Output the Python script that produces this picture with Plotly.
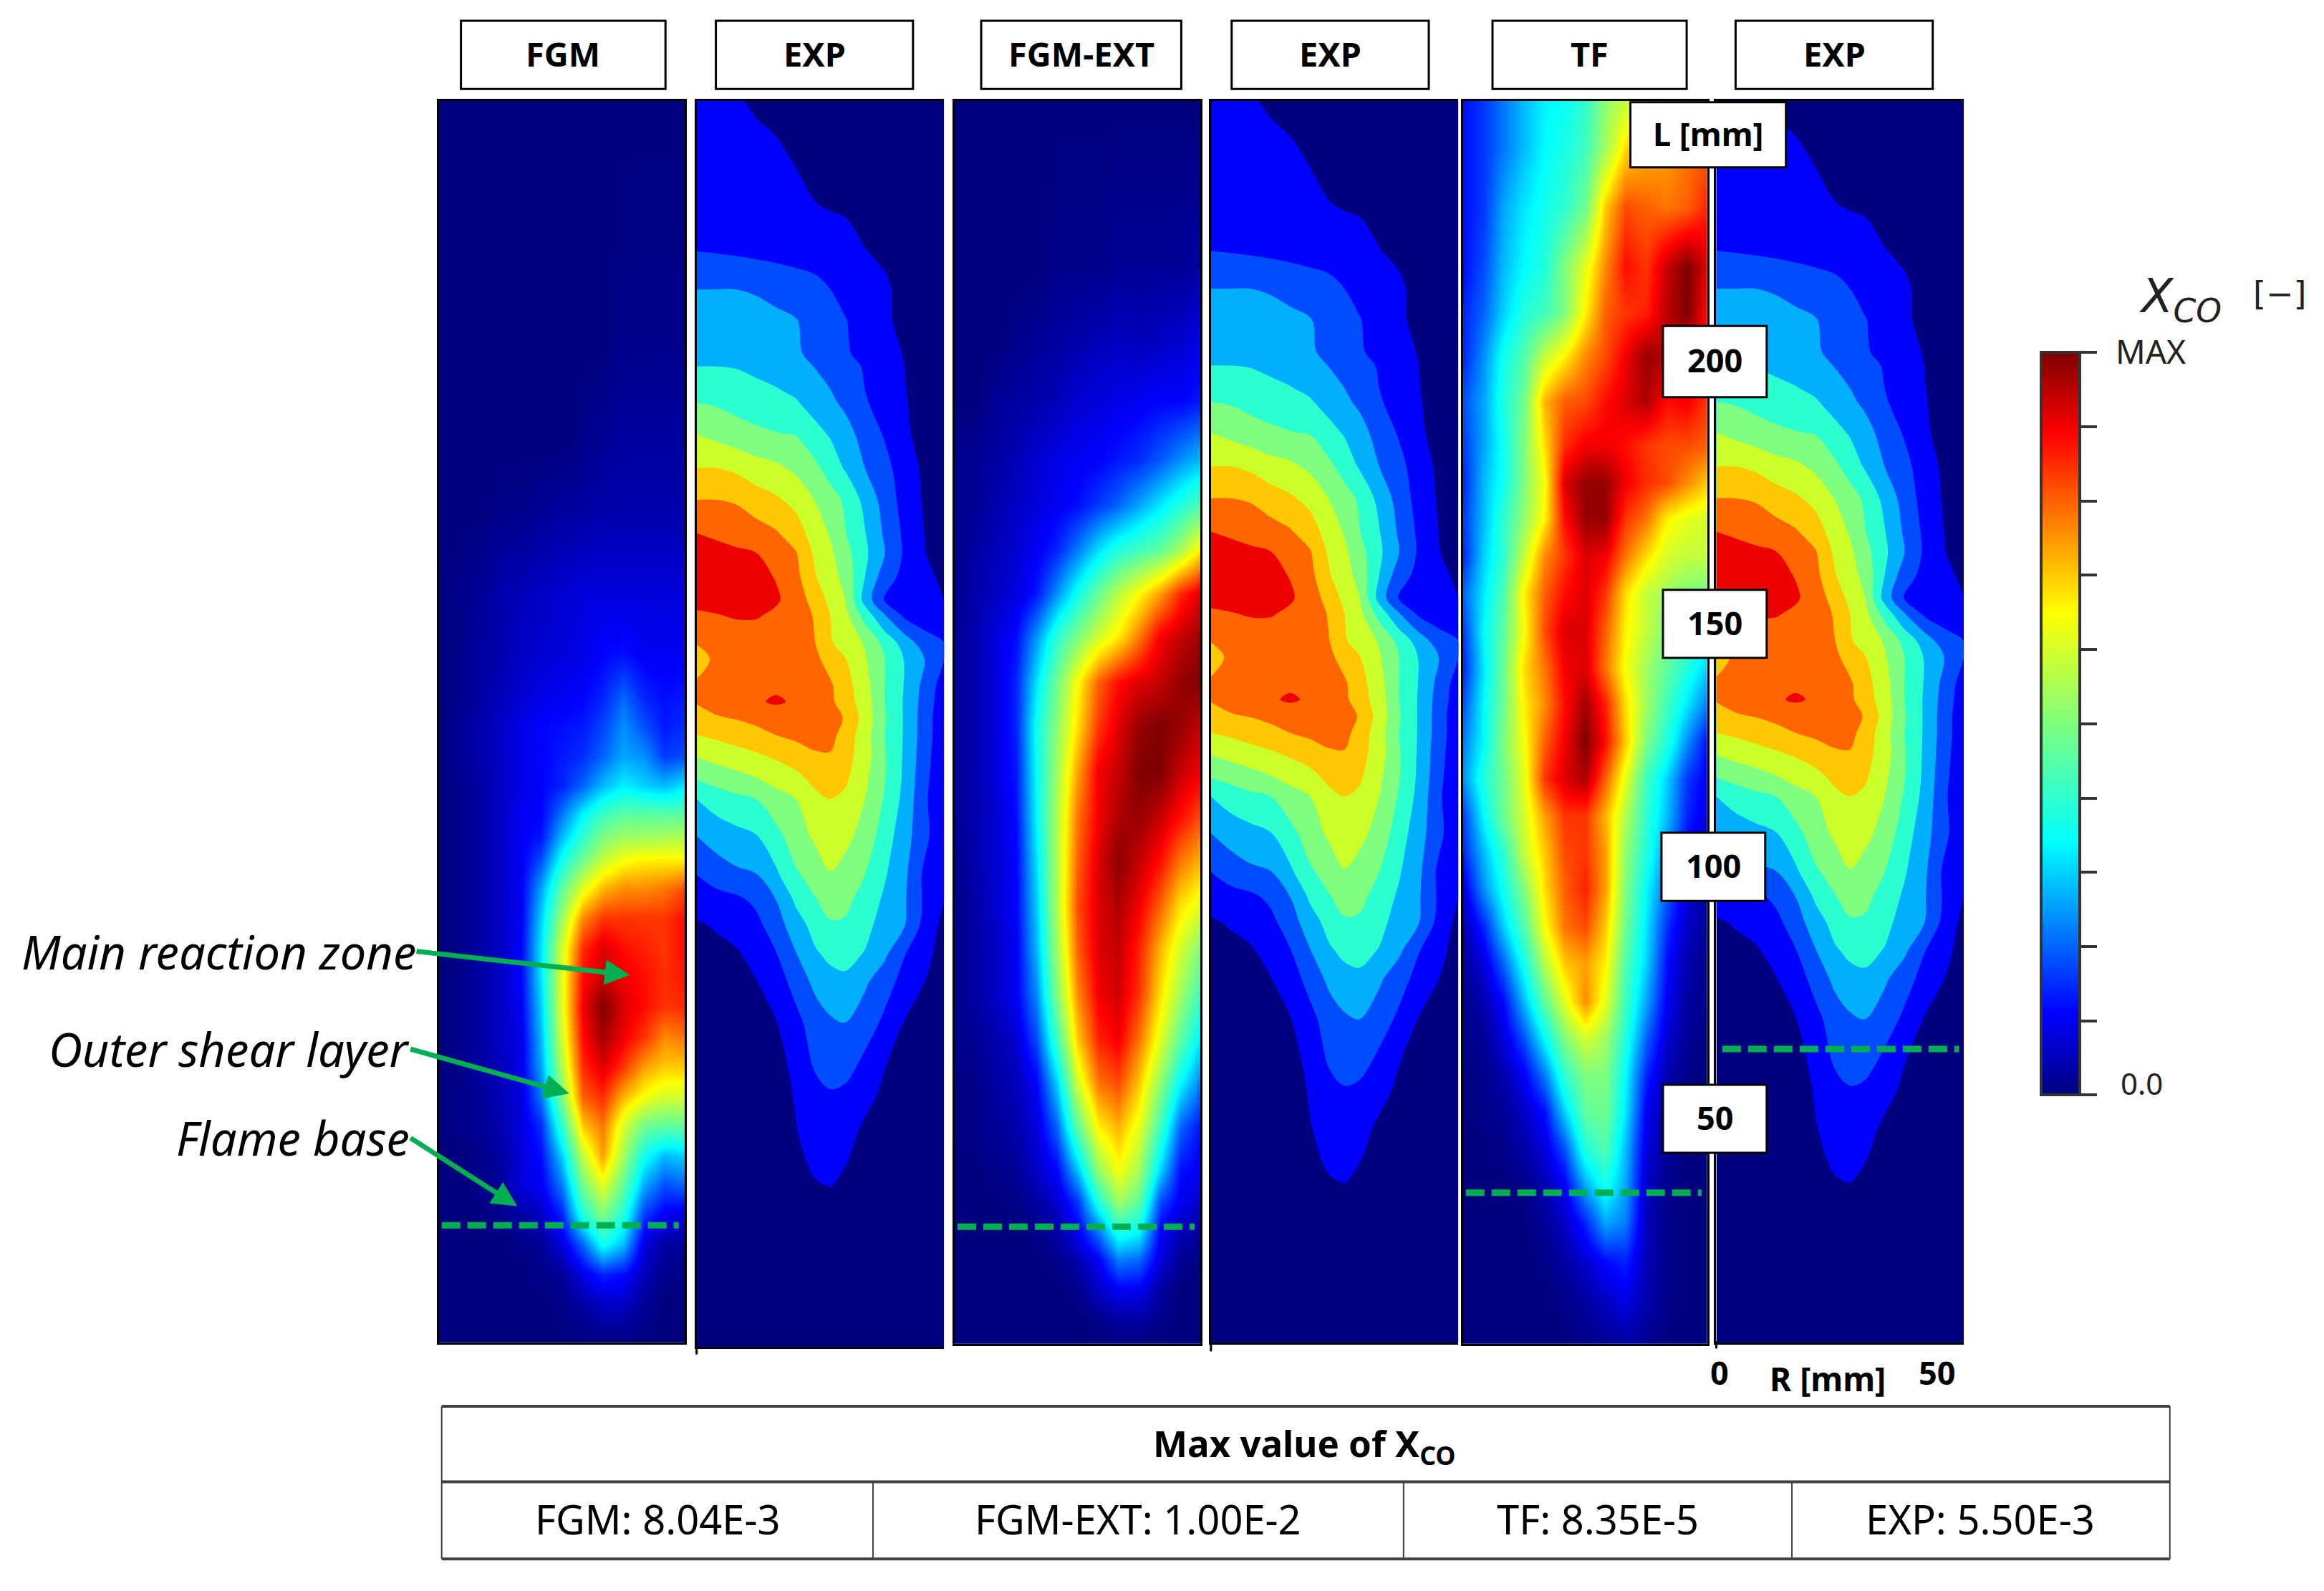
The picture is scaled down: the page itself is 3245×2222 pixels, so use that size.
import plotly.graph_objects as go

W, H = 3245, 2222
S = W / 1568  # positions below were measured on the 1568 wide preview

panel_names = ["FGM", "EXP", "FGM-EXT", "EXP", "TF", "EXP"]
L_ticks = ["L [mm]", "200", "150", "100", "50"]
max_labels = ["FGM: 8.04E-3", "FGM-EXT: 1.00E-2", "TF: 8.35E-5", "EXP: 5.50E-3"]

# flame base height in mm
base_fgm = 28.9
base_fgm_ext = 28.9
base_tf = 35.6
base_exp = 63.8

sim_R = [-50, -45.8, -41.7, -37.5, -33.3, -29.2, -25, -20.8, -16.7, -12.5, -8.3, -4.2, 0]
exp_R = [0, 4, 8, 12, 16, 20, 24, 27, 30, 34, 38, 42, 46, 50]

fgm_L = [251.5, 204, 183.4, 170.2, 154.1, 142.4, 133.6, 127.7, 121.8, 115.9, 110.1, 105.7, 101.3, 95.5,
         89.6, 83.7, 77.9, 72, 66.1, 60.3, 54.4, 48.5, 42.7, 36.8, 30.9, 25.1, 19.2, 13.3, 5.7]
fgm_z = [
    [0, 0, 0, 0, 0, 0, 0, 0, 0, 0, 0, 0, 0],
    [0, 0, 0, 0, 0, 0, 0, 0, 0, 1, 1, 1, 1],
    [0, 0, 0, 0, 0, 0, 0, 1, 2, 3, 3, 3, 3],
    [0, 0, 0, 1, 1, 2, 3, 3, 4, 4, 4, 4, 4],
    [0, 1, 2, 4, 5, 6, 7, 8, 8, 8, 8, 8, 8],
    [0, 1, 3, 4, 6, 7, 8, 9, 11, 12, 10, 10, 10],
    [0, 1, 3, 5, 7, 9, 10, 11, 14, 20, 14, 12, 13],
    [0, 2, 4, 6, 9, 11, 12, 13, 17, 24, 18, 13, 15],
    [0, 2, 4, 6, 9, 11, 13, 15, 20, 26, 24, 16, 18],
    [0, 1, 3, 6, 9, 11, 14, 20, 28, 33, 30, 28, 32],
    [0, 1, 3, 6, 10, 11, 22, 34, 42, 46, 46, 46, 46],
    [0, 1, 3, 6, 10, 13, 28, 40, 50, 54, 54, 55, 56],
    [0, 1, 3, 6, 10, 18, 36, 48, 58, 64, 66, 66, 66],
    [0, 1, 3, 6, 10, 26, 46, 62, 72, 76, 76, 78, 82],
    [0, 1, 3, 6, 10, 30, 54, 76, 84, 84, 84, 84, 88],
    [0, 1, 3, 6, 11, 32, 60, 85, 92, 88, 86, 84, 88],
    [0, 1, 3, 6, 11, 32, 62, 88, 94, 90, 88, 85, 87],
    [0, 1, 3, 6, 10, 30, 62, 90, 100, 92, 88, 84, 85],
    [0, 1, 3, 6, 9, 28, 60, 88, 97, 90, 84, 76, 78],
    [0, 1, 3, 5, 9, 26, 56, 85, 92, 84, 74, 70, 70],
    [0, 1, 2, 5, 8, 22, 50, 80, 85, 72, 64, 60, 60],
    [0, 1, 2, 4, 8, 15, 40, 70, 78, 60, 48, 46, 46],
    [0, 0, 1, 3, 8, 12, 30, 58, 74, 54, 36, 28, 30],
    [0, 0, 1, 2, 8, 10, 22, 48, 62, 46, 26, 18, 20],
    [0, 0, 0, 1, 3, 6, 14, 38, 50, 38, 16, 10, 8],
    [0, 0, 0, 0, 1, 2, 8, 20, 36, 28, 8, 3, 2],
    [0, 0, 0, 0, 0, 1, 2, 9, 14, 12, 5, 1, 1],
    [0, 0, 0, 0, 0, 0, 1, 3, 6, 6, 2, 0, 0],
    [0, 0, 0, 0, 0, 0, 0, 0, 0, 0, 0, 0, 0],
]

ext_L = [251.5, 218.6, 204, 192.2, 180.5, 171.7, 162.9, 154.1, 145.3, 136.5, 127.7, 118.9, 110.1, 101.3,
         92.5, 83.7, 74.9, 66.1, 57.3, 48.5, 39.7, 33.9, 28, 22.1, 16.3, 10.4, 5.7]
ext_z = [
    [0, 0, 0, 0, 0, 0, 0, 0, 0, 0, 0, 0, 0],
    [0, 0, 0, 0, 0, 1, 1, 1, 2, 2, 2, 2, 3],
    [0, 0, 0, 1, 2, 3, 4, 5, 6, 5, 6, 7, 9],
    [0, 0, 2, 3, 4, 5, 7, 8, 9, 10, 11, 11, 13],
    [1, 2, 3, 5, 7, 9, 10, 11, 13, 15, 19, 24, 28],
    [1, 2, 4, 6, 8, 10, 12, 16, 20, 26, 32, 38, 44],
    [1, 3, 5, 7, 10, 14, 22, 31, 38, 42, 46, 54, 66],
    [1, 4, 6, 8, 13, 24, 36, 47, 57, 65, 74, 85, 92],
    [2, 4, 8, 12, 25, 40, 50, 60, 67, 78, 90, 94, 98],
    [2, 4, 8, 14, 32, 48, 65, 80, 88, 92, 94, 98, 100],
    [2, 4, 8, 14, 36, 52, 68, 84, 92, 98, 100, 98, 94],
    [2, 4, 8, 13, 35, 54, 74, 90, 94, 100, 100, 94, 90],
    [2, 4, 7, 12, 34, 56, 78, 90, 96, 98, 94, 88, 82],
    [1, 4, 7, 11, 32, 56, 80, 92, 99, 94, 88, 78, 72],
    [1, 3, 7, 11, 30, 56, 82, 92, 96, 90, 80, 68, 62],
    [1, 3, 6, 10, 28, 54, 80, 92, 94, 86, 72, 60, 50],
    [1, 3, 6, 10, 24, 50, 76, 90, 93, 84, 68, 54, 42],
    [1, 2, 4, 7, 18, 42, 70, 86, 90, 78, 62, 46, 32],
    [0, 1, 3, 5, 11, 30, 60, 78, 82, 70, 52, 34, 22],
    [0, 1, 2, 4, 8, 20, 46, 66, 72, 62, 42, 20, 12],
    [0, 0, 1, 2, 6, 11, 28, 52, 64, 54, 30, 12, 10],
    [0, 0, 0, 1, 3, 7, 16, 38, 54, 46, 18, 10, 6],
    [0, 0, 0, 0, 1, 3, 10, 22, 38, 34, 11, 5, 2],
    [0, 0, 0, 0, 0, 1, 4, 10, 22, 20, 8, 2, 0],
    [0, 0, 0, 0, 0, 0, 1, 6, 10, 10, 3, 0, 0],
    [0, 0, 0, 0, 0, 0, 0, 1, 3, 3, 1, 0, 0],
    [0, 0, 0, 0, 0, 0, 0, 0, 0, 0, 0, 0, 0],
]

tf_L = [251.5, 242.1, 230.4, 218.6, 209.8, 201, 192.2, 183.4, 176.1, 168.8, 161.4, 154.1, 146.8, 139.4,
        132.1, 124.8, 117.4, 110.1, 102.8, 95.5, 88.1, 80.8, 73.5, 66.1, 58.8, 51.5, 44.1, 36.8, 29.5,
        22.1, 14.8, 5.7]
tf_z = [
    [12, 16, 22, 28, 33, 35, 40, 52, 58, 68, 72, 75, 78],
    [12, 16, 22, 28, 34, 37, 42, 54, 68, 72, 74, 78, 80],
    [12, 16, 26, 32, 36, 40, 48, 70, 82, 80, 78, 80, 86],
    [12, 18, 28, 34, 38, 50, 62, 76, 88, 84, 94, 100, 92],
    [14, 20, 30, 38, 42, 50, 66, 80, 84, 86, 95, 100, 88],
    [14, 24, 36, 44, 58, 66, 76, 82, 90, 98, 95, 92, 88],
    [18, 26, 38, 48, 72, 80, 82, 88, 92, 96, 88, 90, 84],
    [16, 26, 36, 50, 68, 85, 90, 90, 88, 84, 82, 82, 80],
    [14, 28, 36, 50, 64, 92, 98, 98, 90, 85, 82, 76, 70],
    [16, 28, 40, 52, 66, 88, 98, 98, 84, 78, 66, 62, 60],
    [14, 30, 40, 58, 76, 84, 92, 90, 78, 68, 60, 58, 58],
    [20, 32, 44, 66, 80, 88, 92, 84, 68, 58, 54, 50, 48],
    [16, 34, 46, 64, 82, 92, 92, 80, 66, 58, 50, 42, 36],
    [14, 32, 48, 68, 78, 90, 92, 78, 64, 54, 46, 38, 30],
    [18, 34, 48, 66, 76, 88, 97, 86, 68, 54, 42, 32, 22],
    [22, 34, 50, 64, 80, 90, 100, 88, 70, 50, 38, 24, 12],
    [24, 38, 48, 62, 84, 92, 96, 80, 62, 42, 30, 16, 10],
    [16, 34, 48, 60, 74, 84, 84, 72, 56, 40, 28, 14, 8],
    [14, 28, 40, 58, 70, 82, 84, 74, 52, 38, 24, 11, 5],
    [8, 24, 36, 50, 68, 80, 86, 74, 50, 34, 20, 8, 3],
    [4, 14, 30, 44, 64, 78, 82, 70, 48, 32, 15, 6, 2],
    [2, 8, 20, 36, 56, 70, 74, 66, 44, 30, 12, 4, 1],
    [1, 4, 12, 28, 46, 62, 76, 62, 42, 26, 10, 3, 1],
    [1, 2, 8, 18, 34, 50, 60, 54, 38, 20, 7, 2, 0],
    [0, 1, 4, 10, 22, 40, 50, 50, 34, 14, 4, 1, 0],
    [0, 1, 2, 6, 12, 30, 46, 48, 32, 10, 3, 0, 0],
    [0, 0, 1, 3, 8, 18, 38, 44, 28, 8, 2, 0, 0],
    [0, 0, 0, 1, 4, 10, 26, 36, 26, 6, 1, 0, 0],
    [0, 0, 0, 0, 2, 6, 14, 26, 22, 5, 1, 0, 0],
    [0, 0, 0, 0, 1, 3, 7, 12, 14, 5, 1, 0, 0],
    [0, 0, 0, 0, 0, 1, 3, 6, 9, 4, 1, 0, 0],
    [0, 0, 0, 0, 0, 0, 1, 2, 3, 2, 0, 0, 0],
]

# EXP values are on the band scale, band k runs from k to k+1
exp_L = [252, 244.2, 237.9, 231.6, 228.4, 221.8, 217.2, 214.3, 208.1, 201.8, 199.1, 194.6, 191.9, 185.8,
         179.1, 172.8, 166.2, 162.1, 157.6, 153.1, 150, 144.6, 141.4, 136, 133, 129.7, 126.4, 122, 117.5,
         113.8, 106.5, 98.8, 93.9, 89, 83.3, 77.6, 69.7, 59.7, 56, 48.3, 41.8, 37.4, 29.6, 5]
exp_z = [
    [1.4, 1.3, 1.1, 0.8, 0.4, 0, 0, 0, 0, 0, 0, 0, 0, 0],
    [1.5, 1.5, 1.4, 1.2, 1.02, 0.7, 0.3, 0, 0, 0, 0, 0, 0, 0],
    [1.6, 1.6, 1.5, 1.4, 1.2, 1.02, 0.7, 0.3, 0, 0, 0, 0, 0, 0],
    [1.7, 1.7, 1.6, 1.5, 1.4, 1.2, 1.0, 0.7, 0.4, 0, 0, 0, 0, 0],
    [1.8, 1.8, 1.7, 1.6, 1.5, 1.4, 1.3, 1.2, 1.02, 0.6, 0, 0, 0, 0],
    [2.0, 1.95, 1.9, 1.85, 1.8, 1.75, 1.6, 1.4, 1.25, 1.05, 0.7, 0.2, 0, 0],
    [2.6, 2.5, 2.4, 2.3, 2.2, 2.1, 2.0, 1.8, 1.6, 1.3, 1.05, 0.4, 0, 0],
    [3.0, 3.0, 3.0, 2.9, 2.6, 2.4, 2.2, 2.0, 1.7, 1.4, 1.15, 0.7, 0, 0],
    [3.5, 3.5, 3.5, 3.4, 3.3, 3.05, 2.7, 2.3, 2.05, 1.6, 1.2, 0.7, 0, 0],
    [3.8, 3.8, 3.75, 3.7, 3.5, 3.1, 2.8, 2.4, 2.1, 1.75, 1.3, 0.95, 0, 0],
    [4.0, 4.0, 3.95, 3.8, 3.6, 3.4, 2.95, 2.5, 2.2, 1.95, 1.45, 1.0, 0.3, 0],
    [4.7, 4.6, 4.4, 4.2, 4.05, 3.8, 3.4, 3.0, 2.6, 2.0, 1.5, 1.05, 0.4, 0],
    [5.0, 4.9, 4.7, 4.5, 4.3, 4.1, 3.6, 3.2, 2.8, 2.1, 1.6, 1.1, 0.5, 0],
    [6.0, 5.7, 5.4, 5.2, 5.05, 4.95, 4.3, 3.9, 3.4, 2.6, 1.9, 1.2, 0.6, 0],
    [7.0, 7.0, 6.8, 6.4, 6.2, 5.8, 5.2, 4.6, 3.9, 3.0, 2.3, 1.5, 0.8, 0],
    [8.0, 8.0, 7.9, 7.5, 7.15, 6.7, 5.95, 5.4, 4.85, 3.7, 2.6, 1.6, 0.9, 0],
    [9.0, 8.8, 8.6, 8.4, 8.1, 7.5, 6.5, 5.9, 5.05, 4.05, 2.85, 1.8, 1.0, 0],
    [9.4, 9.4, 9.2, 9.05, 8.4, 8.1, 6.8, 6.2, 5.4, 4.2, 3.0, 1.85, 1.1, 0],
    [9.6, 9.6, 9.5, 9.3, 8.95, 8.3, 7.05, 6.4, 5.7, 4.0, 2.45, 1.7, 1.25, 0.8],
    [9.4, 9.4, 9.4, 9.3, 9.15, 8.5, 7.6, 6.7, 6.02, 3.6, 1.9, 1.5, 1.3, 1.0],
    [8.8, 8.95, 9.1, 9.1, 8.8, 8.5, 7.9, 7.0, 6.3, 4.6, 3.05, 1.8, 1.4, 1.2],
    [8.05, 8.3, 8.4, 8.4, 8.4, 8.3, 8.0, 7.1, 6.6, 5.9, 4.7, 3.55, 2.5, 2.0],
    [7.6, 8.2, 8.5, 8.5, 8.5, 8.4, 8.2, 7.6, 7.05, 6.1, 5.0, 3.95, 3.0, 2.0],
    [8.15, 8.4, 8.6, 8.8, 8.8, 8.7, 8.4, 8.15, 7.4, 6.4, 5.0, 3.95, 2.7, 1.5],
    [8.1, 8.4, 8.6, 8.85, 9.15, 8.85, 8.5, 8.2, 7.5, 6.5, 5.0, 3.9, 2.6, 1.4],
    [7.5, 7.9, 8.05, 8.25, 8.4, 8.6, 8.6, 8.5, 7.9, 6.6, 5.1, 3.9, 2.5, 1.3],
    [7.0, 7.2, 7.4, 7.7, 8.0, 8.2, 8.35, 8.3, 7.6, 6.45, 5.0, 3.9, 2.5, 1.3],
    [6.0, 6.3, 6.6, 6.8, 7.1, 7.5, 7.85, 7.9, 7.4, 6.45, 5.1, 3.85, 2.4, 1.2],
    [5.0, 5.3, 5.55, 5.9, 6.3, 6.6, 7.3, 7.5, 7.15, 6.2, 5.05, 3.8, 2.3, 1.1],
    [4.0, 4.5, 4.8, 5.0, 5.6, 6.0, 6.7, 7.0, 6.8, 6.0, 4.9, 3.7, 2.2, 1.05],
    [3.0, 3.4, 3.7, 3.95, 4.7, 5.5, 6.2, 6.5, 6.3, 5.6, 4.5, 3.4, 2.3, 1.1],
    [2.0, 2.5, 2.8, 2.95, 3.8, 4.85, 5.4, 5.95, 5.6, 5.0, 4.1, 3.2, 1.8, 1.1],
    [1.45, 1.6, 1.8, 2.2, 3.0, 4.15, 4.95, 5.4, 5.3, 4.55, 3.85, 3.1, 1.85, 1.0],
    [0.9, 1.1, 1.35, 1.75, 2.5, 3.6, 4.35, 4.9, 4.85, 4.3, 3.6, 3.05, 1.7, 0.7],
    [0.6, 0.75, 0.9, 1.3, 1.95, 2.95, 3.9, 4.2, 4.3, 3.95, 3.2, 2.05, 1.3, 0.6],
    [0.3, 0.5, 0.7, 0.95, 1.5, 2.35, 3.25, 3.7, 3.8, 3.15, 2.4, 1.65, 1.0, 0.4],
    [0, 0.1, 0.3, 0.55, 0.95, 1.7, 2.5, 2.85, 3.0, 2.5, 1.8, 0.95, 0.4, 0],
    [0, 0, 0.1, 0.3, 0.6, 1.2, 2.0, 2.3, 2.25, 1.6, 0.95, 0.3, 0, 0],
    [0, 0, 0, 0.2, 0.5, 1.1, 1.7, 1.95, 1.8, 1.3, 0.85, 0.2, 0, 0],
    [0, 0, 0, 0.1, 0.4, 0.95, 1.4, 1.5, 1.3, 0.85, 0.3, 0, 0, 0],
    [0, 0, 0, 0, 0.2, 0.7, 1.2, 1.3, 1.05, 0.5, 0, 0, 0, 0],
    [0, 0, 0, 0, 0.1, 0.3, 0.9, 1.02, 0.6, 0.1, 0, 0, 0, 0],
    [0, 0, 0, 0, 0, 0, 0.3, 0.3, 0.1, 0, 0, 0, 0, 0],
    [0, 0, 0, 0, 0, 0, 0, 0, 0, 0, 0, 0, 0, 0],
]

jet = [[0, "#00007f"], [0.11, "#0000ff"], [0.34, "#00ffff"], [0.5, "#7fff7f"],
       [0.65, "#ffff00"], [0.89, "#ff0000"], [1, "#7f0000"]]
band_colors = ["#000080", "#0000ff", "#004cff", "#00b0ff", "#2affcf",
               "#7fff7f", "#ccff2a", "#ffc800", "#ff6600", "#ee0000"]
band_scale = []
for i, c in enumerate(band_colors):
    band_scale.append([i / 10, c])
    band_scale.append([(i + 1) / 10, c])

GREEN = "#00b050"
TEXT = "Noto Sans"


def fx(x):
    return x * S / W


def fy(y):
    return 1 - y * S / H


def label(x, y, text, size, bold=False, italic=False, color="black", font=TEXT):
    if bold:
        text = "<b>" + text + "</b>"
    if italic:
        text = "<i>" + text + "</i>"
    fig.add_annotation(x=fx(x), y=fy(y), xref="paper", yref="paper", text=text, showarrow=False,
                       xanchor="center", yanchor="middle", font=dict(family=font, size=size, color=color))


def box(x0, y0, x1, y1, text, size=45):
    fig.add_shape(type="rect", xref="paper", yref="paper", x0=fx(x0), x1=fx(x1), y0=fy(y0), y1=fy(y1),
                  fillcolor="white", line=dict(color="black", width=3))
    label((x0 + x1) / 2, (y0 + y1) / 2 - 1, text, size, bold=True)


def hline(x0, x1, y, width=4, color="#404040"):
    fig.add_shape(type="line", xref="paper", yref="paper", x0=fx(x0), x1=fx(x1), y0=fy(y), y1=fy(y),
                  line=dict(color=color, width=width))


def vline(x, y0, y1, width=2, color="#404040"):
    fig.add_shape(type="line", xref="paper", yref="paper", x0=fx(x), x1=fx(x), y0=fy(y0), y1=fy(y1),
                  line=dict(color=color, width=width))


fig = go.Figure()

panels = [(296, 462, 906), (470, 637, 909), (644, 810, 907), (817, 984, 906), (987, 1152, 907), (1158, 1325, 906)]
grids = [(sim_R, fgm_L, fgm_z), None, (sim_R, ext_L, ext_z), None, (sim_R, tf_L, tf_z), None]
bases = [base_fgm, None, base_fgm_ext, None, base_tf, base_exp]

for i, (x0, x1, y1) in enumerate(panels):
    n = "" if i == 0 else str(i + 1)
    is_exp = panel_names[i] == "EXP"
    if is_exp:
        fig.add_trace(go.Contour(x=exp_R, y=exp_L, z=exp_z, xaxis="x" + n, yaxis="y" + n,
                                 colorscale=band_scale, zmin=0, zmax=10, showscale=False,
                                 autocontour=False, contours=dict(start=1, end=9, size=1, coloring="fill"),
                                 line=dict(width=0)))
    else:
        g = grids[i]
        fig.add_trace(go.Heatmap(x=g[0], y=g[1], z=g[2], xaxis="x" + n, yaxis="y" + n,
                                 coloraxis="coloraxis", zsmooth="best"))
    if bases[i] is not None:
        # the dashes stop just short of the panel edges
        r = [1.2, 49] if is_exp else [-49.4, -1.2]
        fig.add_trace(go.Scatter(x=r, y=[bases[i], bases[i]], mode="lines",
                                 xaxis="x" + n, yaxis="y" + n, showlegend=False,
                                 line=dict(color=GREEN, width=9, dash="26px,10px")))
    xr = [0, 50] if is_exp else [-50, 0]
    fig.update_layout({
        "xaxis" + n: dict(domain=[fx(x0), fx(x1)], range=xr, showticklabels=False, ticks="", showgrid=False,
                          zeroline=False, showline=True, mirror=True, linecolor="black", linewidth=3,
                          anchor="y" + n),
        "yaxis" + n: dict(domain=[fy(y1), fy(68)], range=[5.7, 251.5], showticklabels=False, ticks="",
                          showgrid=False, zeroline=False, showline=True, mirror=not is_exp,
                          linecolor="black", linewidth=3, anchor="x" + n),
    })

fig.update_layout(
    width=W, height=H, margin=dict(l=0, r=0, t=0, b=0), paper_bgcolor="white", plot_bgcolor="white",
    showlegend=False,
    coloraxis=dict(colorscale=jet, cmin=0, cmax=100, colorbar=dict(
        x=fx(1377), xanchor="left", xpad=0, y=fy(739), yanchor="bottom", ypad=0,
        lenmode="fraction", len=(739 - 238) * S / H, thicknessmode="pixels", thickness=26 * S,
        outlinecolor="#333333", outlinewidth=4, tickmode="array",
        tickvals=[0, 10, 20, 30, 40, 50, 60, 70, 80, 90, 100], showticklabels=False,
        ticks="outside", ticklen=22, tickwidth=4, tickcolor="#333333")),
)

# panel titles
title_boxes = [(311, 449), (483, 616), (662, 797), (831, 964), (1007, 1138), (1171, 1304)]
for name, (x0, x1) in zip(panel_names, title_boxes):
    box(x0, 14, x1, 60, name, size=47)

# axis tag boxes along the TF / EXP seam
tag_boxes = [(1100, 69, 1205, 113), (1122, 220, 1192, 268), (1122, 398, 1192, 444),
             (1121, 562, 1191, 608), (1122, 732, 1192, 778)]
for tag, (x0, y0, x1, y1) in zip(L_ticks, tag_boxes):
    box(x0, y0, x1, y1, tag)

# left axis lines run a little past the panels
vline(470, 905, 914, width=3, color="black")
vline(817, 905, 912, width=3, color="black")
vline(1158, 905, 910, width=3, color="black")

label(1160, 926, "0", 45, bold=True)
label(1233, 930, "R [mm]", 46, bold=True)
label(1307, 926, "50", 45, bold=True)

# colour bar texts
label(1451, 237, "MAX", 46, color="#222222")
label(1445, 731, "0.0", 42, color="#222222")
label(1471, 202, "X<sub>CO</sub>", 65, italic=True, color="#222222", font="DejaVu Sans")
label(1538, 198, "[−]", 46, color="#222222", font="DejaVu Sans")

# callouts, the text sits at the tail of its arrow
callouts = [("Main reaction zone", 281, 642, 425, 658),
            ("Outer shear layer", 277, 708, 384, 738),
            ("Flame base", 277, 768, 349, 814)]
for text, ax, ay, hx, hy in callouts:
    fig.add_annotation(x=fx(hx), y=fy(hy), xref="paper", yref="paper", showarrow=True,
                       text="<i>" + text + "</i>", font=dict(family=TEXT, size=65, color="black"),
                       xanchor="right", yanchor="middle", borderpad=0,
                       ax=(ax - hx) * S, ay=(ay - hy) * S, axref="pixel", ayref="pixel",
                       arrowcolor=GREEN, arrowwidth=7, arrowhead=2, arrowsize=1)

# table of maximum values
hline(298, 1464, 949)
hline(298, 1464, 1000)
hline(298, 1464, 1052)
vline(298, 949, 1052)
vline(1464, 949, 1052)
vline(589, 1000, 1052)
vline(947, 1000, 1052)
vline(1209, 1000, 1052)
label(880, 975, "Max value of X<sub>CO</sub>", 51, bold=True)
for text, x in zip(max_labels, [444, 768, 1078, 1336]):
    label(x, 1025, text, 56)

fig.write_html("out.html", post_script="document.body.style.margin='0';",
               config={"displayModeBar": False})
